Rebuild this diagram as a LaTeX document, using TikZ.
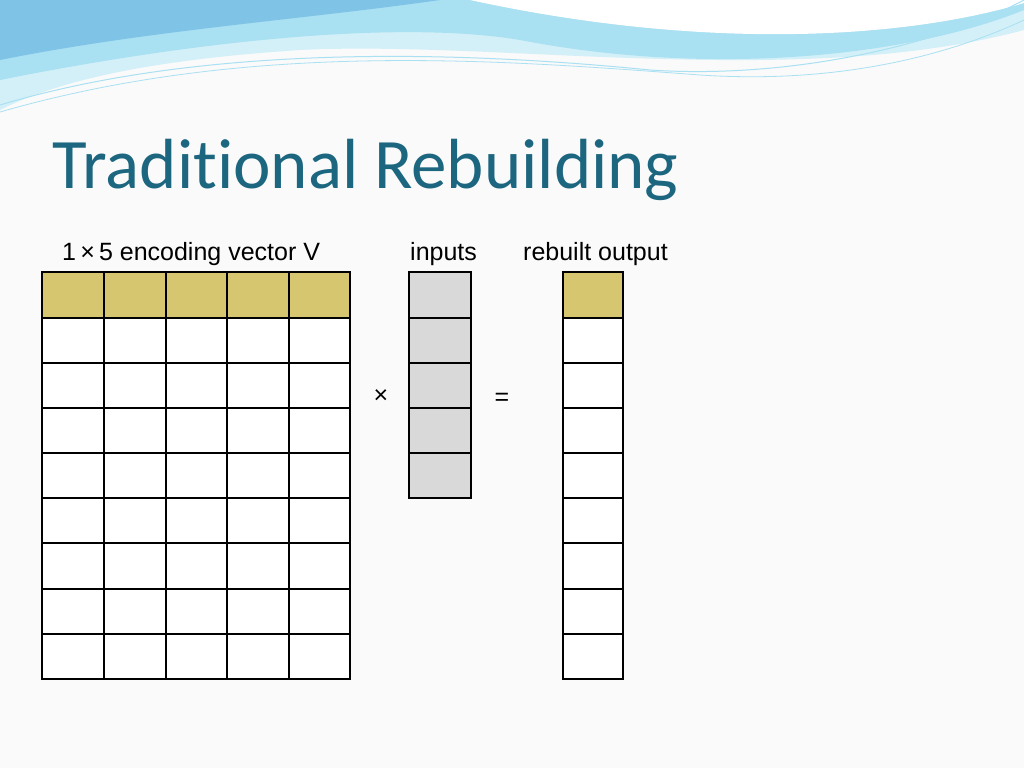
\documentclass[tikz,border=0pt]{standalone}
\usepackage{fontspec}
\setmainfont{Liberation Sans}
\newfontfamily\titlefont[Ligatures=NoCommon]{Carlito}
\begin{document}
\begin{tikzpicture}[x=1pt,y=-1pt]
\definecolor{tan}{HTML}{D6C66F}
\definecolor{gry}{HTML}{D9D9D9}
\definecolor{ttl}{HTML}{1C6680}
\definecolor{wa}{HTML}{7FC3E6}
\definecolor{wb}{HTML}{A9E0F2}
\definecolor{wc}{HTML}{D3F0F8}
\tikzset{cellbox/.style={draw=black,line width=1.2pt},
 lbl/.style={font=\fontsize{25}{30}\selectfont,anchor=base west,inner sep=0}}
\useasboundingbox (0,0) rectangle (1024,768);
\fill[white!96!gray] (0,0) rectangle (1024,768);
% header waves
\fill[wc] (0,0) -- (1024,0) -- (1024,30) .. controls (800,90) and (500,40) .. (300,50) .. controls (150,60) and (60,80) .. (0,110) -- cycle;
\fill[wb] (0,0) -- (1024,0) -- (1024,10) .. controls (900,60) and (700,75) .. (520,40) .. controls (400,20) and (200,40) .. (0,80) -- cycle;
\fill[wa] (0,0) -- (440,0) .. controls (300,20) and (150,30) .. (0,60) -- cycle;
\fill[white] (470,0) -- (1024,0) -- (1024,3) .. controls (900,40) and (700,50) .. (470,0) -- cycle;
\draw[wb,line width=1pt] (0,105) .. controls (200,45) and (450,50) .. (650,70) .. controls (800,80) and (950,40) .. (1024,0);
\draw[wb,line width=0.8pt] (0,112) .. controls (250,40) and (500,60) .. (700,75) .. controls (850,85) and (960,50) .. (1024,20);
% title
\node[anchor=base west,inner sep=0,text=ttl,font=\titlefont\fontsize{71}{78}\selectfont] (title) at (52,188) {Traditional Rebuilding};
\node[lbl] (l1) at (62,260) {1\,×\,5 encoding vector V};
\node[lbl] (l2) at (410,260) {inputs};
\node[lbl] (l3) at (523,260) {rebuilt output};
\node[font=\fontsize{25}{30}\selectfont] (times) at (381,397) {×};
\node[font=\fontsize{25}{30}\selectfont] (eq) at (502,399) {=};
% matrix
\def\xs{{42,104,166,227,289,350}}
\def\ys{{272,318,363,408,453,498,543,589,634,679}}
\foreach \r in {0,...,8}{
 \pgfmathsetmacro\ya{\ys[\r]}\pgfmathsetmacro\yb{\ys[\r+1]}
 \ifnum\r=0 \def\fc{tan}\else\def\fc{white}\fi
 \foreach \c in {0,...,4}{
  \pgfmathsetmacro\xa{\xs[\c]}\pgfmathsetmacro\xb{\xs[\c+1]}
  \draw[cellbox,fill=\fc] (\xa,\ya) rectangle (\xb,\yb);
 }
 \draw[cellbox,fill=\fc] (563,\ya) rectangle (623,\yb);
 \ifnum\r<5 \draw[cellbox,fill=gry] (409,\ya) rectangle (471,\yb);\fi
}
\end{tikzpicture}
\end{document}
